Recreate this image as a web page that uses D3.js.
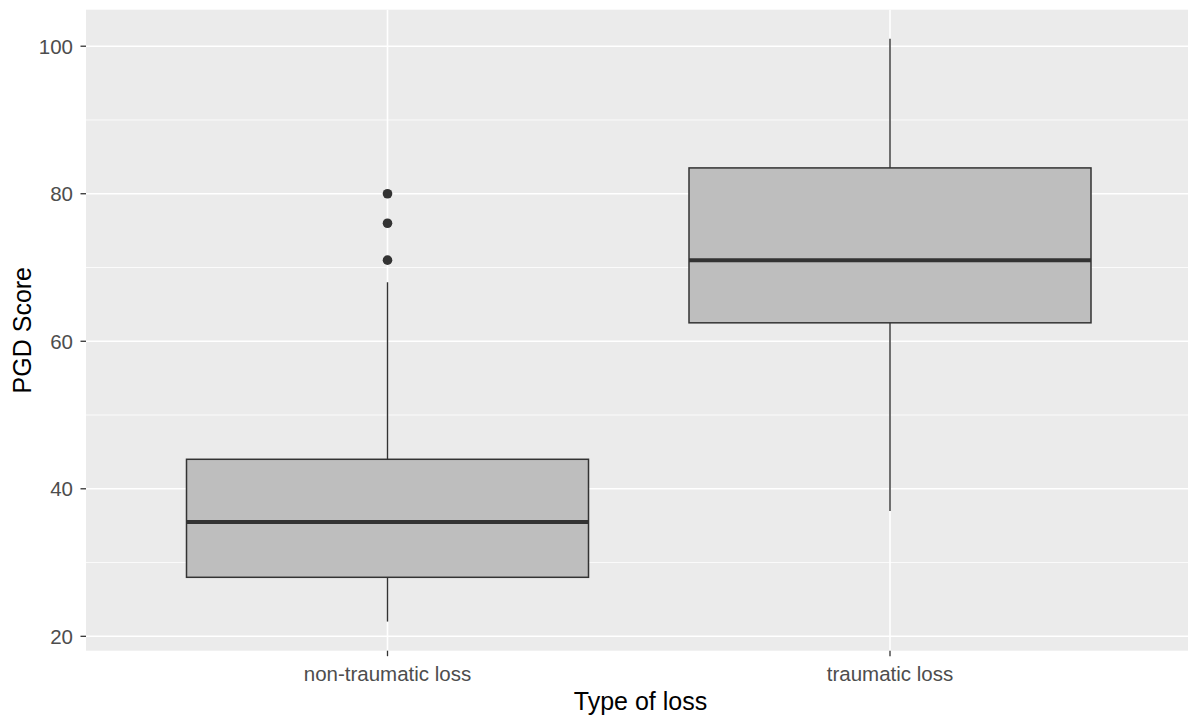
<!DOCTYPE html>
<html>
<head>
<meta charset="utf-8">
<script src="https://cdn.jsdelivr.net/npm/d3@7"></script>
<style>
  html, body { margin: 0; padding: 0; background: #ffffff; }
  svg { display: block; }
</style>
</head>
<body>
<div id="chart"></div>
<script>
// ---- data ----
const categories = ["non-traumatic loss", "traumatic loss"];
const lowerWhisker = [22, 37];
const q1 = [28, 62.5];
const median = [35.5, 71];
const q3 = [44, 83.5];
const upperWhisker = [68, 101];
const outliers = [[71, 76, 80], []];
const yTicks = [20, 40, 60, 80, 100];
const yMinorTicks = [30, 50, 70, 90];
const xTitle = "Type of loss";
const yTitle = "PGD Score";

// ---- layout ----
const W = 1188, H = 718;
const panel = { left: 86, right: 1191.5, top: 9.7, bottom: 650.7 };

const svg = d3.select("#chart").append("svg")
  .attr("width", W).attr("height", H);

const dataMin = 22, dataMax = 101;
const pad = (dataMax - dataMin) * 0.05;
const y = d3.scaleLinear().domain([dataMin - pad, dataMax + pad])
  .range([panel.bottom, panel.top]);
const x = d3.scaleLinear().domain([0.4, categories.length + 0.6])
  .range([panel.left, panel.right]);
const xPos = i => x(i + 1);

// panel background
svg.append("rect")
  .attr("x", panel.left).attr("y", panel.top)
  .attr("width", panel.right - panel.left)
  .attr("height", panel.bottom - panel.top)
  .attr("fill", "#EBEBEB");

const g = svg.append("g");

// minor gridlines
g.selectAll("line.minor").data(yMinorTicks).enter().append("line")
  .attr("x1", panel.left).attr("x2", panel.right)
  .attr("y1", d => y(d)).attr("y2", d => y(d))
  .attr("stroke", "#ffffff").attr("stroke-width", 0.8);

// major gridlines
g.selectAll("line.majory").data(yTicks).enter().append("line")
  .attr("x1", panel.left).attr("x2", panel.right)
  .attr("y1", d => y(d)).attr("y2", d => y(d))
  .attr("stroke", "#ffffff").attr("stroke-width", 1.6);
g.selectAll("line.majorx").data(categories).enter().append("line")
  .attr("x1", (d, i) => xPos(i)).attr("x2", (d, i) => xPos(i))
  .attr("y1", panel.top).attr("y2", panel.bottom)
  .attr("stroke", "#ffffff").attr("stroke-width", 1.6);

// boxplots
const boxHalf = (x(1.4) - x(1.0));
const stroke = "#333333";
categories.forEach((c, i) => {
  const cx = xPos(i);
  // whiskers
  g.append("line").attr("x1", cx).attr("x2", cx)
    .attr("y1", y(q3[i])).attr("y2", y(upperWhisker[i]))
    .attr("stroke", stroke).attr("stroke-width", 1.4);
  g.append("line").attr("x1", cx).attr("x2", cx)
    .attr("y1", y(q1[i])).attr("y2", y(lowerWhisker[i]))
    .attr("stroke", stroke).attr("stroke-width", 1.4);
  // box
  g.append("rect")
    .attr("x", cx - boxHalf).attr("y", y(q3[i]))
    .attr("width", 2 * boxHalf).attr("height", y(q1[i]) - y(q3[i]))
    .attr("fill", "#BEBEBE").attr("stroke", stroke).attr("stroke-width", 1.5);
  // median
  g.append("line")
    .attr("x1", cx - boxHalf).attr("x2", cx + boxHalf)
    .attr("y1", y(median[i])).attr("y2", y(median[i]))
    .attr("stroke", stroke).attr("stroke-width", 4);
  // outliers
  g.selectAll(null).data(outliers[i]).enter().append("circle")
    .attr("cx", cx).attr("cy", d => y(d)).attr("r", 4.8)
    .attr("fill", stroke);
});

// y axis ticks and labels
const yAxis = svg.append("g");
yAxis.selectAll("line").data(yTicks).enter().append("line")
  .attr("x1", panel.left - 5.5).attr("x2", panel.left)
  .attr("y1", d => y(d)).attr("y2", d => y(d))
  .attr("stroke", "#333333").attr("stroke-width", 1.3);
yAxis.selectAll("text").data(yTicks).enter().append("text")
  .attr("x", panel.left - 13).attr("y", d => y(d))
  .attr("dy", "0.36em")
  .attr("text-anchor", "end")
  .attr("font-family", "'Liberation Sans', Arial, sans-serif")
  .attr("font-size", 20.5)
  .attr("fill", "#4D4D4D")
  .text(d => d);

// x axis ticks and labels
const xAxis = svg.append("g");
xAxis.selectAll("line").data(categories).enter().append("line")
  .attr("x1", (d, i) => xPos(i)).attr("x2", (d, i) => xPos(i))
  .attr("y1", panel.bottom).attr("y2", panel.bottom + 5.5)
  .attr("stroke", "#333333").attr("stroke-width", 1.3);
xAxis.selectAll("text").data(categories).enter().append("text")
  .attr("x", (d, i) => xPos(i)).attr("y", 681)
  .attr("text-anchor", "middle")
  .attr("font-family", "'Liberation Sans', Arial, sans-serif")
  .attr("font-size", 20.5)
  .attr("fill", "#4D4D4D")
  .text(d => d);

// axis titles
svg.append("text")
  .attr("x", (panel.left + panel.right) / 2 - 250 + 250 * 0).attr("y", 709.5)
  .attr("text-anchor", "middle")
  .attr("font-family", "'Liberation Sans', Arial, sans-serif")
  .attr("font-size", 25)
  .attr("fill", "#000000")
  .attr("transform", null)
  .text(xTitle)
  .attr("x", 640.5);

svg.append("text")
  .attr("transform", `translate(31,${(panel.top + panel.bottom) / 2}) rotate(-90)`)
  .attr("text-anchor", "middle")
  .attr("font-family", "'Liberation Sans', Arial, sans-serif")
  .attr("font-size", 25)
  .attr("fill", "#000000")
  .text(yTitle);
</script>
</body>
</html>
